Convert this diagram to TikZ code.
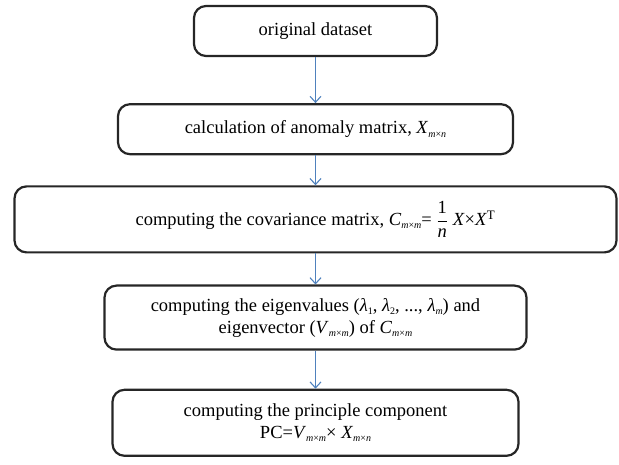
\documentclass[tikz,border=0pt]{standalone}
\usepackage{amsmath}
\usepackage{fontspec}
\setmainfont{Liberation Serif}
\usepackage{tikz}
\usetikzlibrary{arrows.meta,positioning}
\definecolor{pcablue}{RGB}{79,129,189}
\tikzstyle{arrow} = [line width=1.1pt,-{Straight Barb[length=6pt,width=11pt]},color=pcablue]
\tikzstyle{stepbox} = [rectangle, rounded corners=12pt, draw=black!85, line width=2.2pt, text centered, align=center, font=\fontsize{18.5}{22}\selectfont]
\newcommand{\lowsub}[1]{\raisebox{-3.5pt}{\fontsize{10}{10}\selectfont #1}}
\newcommand{\mat}[3]{\textit{#1}\lowsub{\textit{#2}×\textit{#3}}}

\begin{document}
\begin{tikzpicture}[x=1pt, y=1pt]
\useasboundingbox (0,0) rectangle (619,-465);
% Steps
\node[stepbox, minimum width=243pt, minimum height=50pt] (orig) at (315.5,-31) {original dataset};
\node[stepbox, minimum width=395pt, minimum height=50pt, below=46pt of orig] (anom) {calculation of anomaly matrix, \mat{X}{m}{n}};
\node[stepbox, minimum width=602pt, minimum height=66pt, below=30pt of anom] (cov) {computing the covariance matrix, \mat{C}{m}{m}= $\dfrac{\text{1}}{\textit{n}}$ \textit{X}×\textit{X}\textsuperscript{T}};
\node[stepbox, minimum width=422pt, minimum height=64pt, below=31pt of cov] (eig) {computing the eigenvalues (\textit{λ}\lowsub{1}, \textit{λ}\lowsub{2}, ..., \textit{λ}\lowsub{\textit{m}}) and\\ eigenvector (\mat{V}{m}{m}) of \mat{C}{m}{m}};
\node[stepbox, minimum width=406pt, minimum height=66pt, text depth=4pt, below=38pt of eig] (pc) {computing the principle component\\ PC=\mat{V}{m}{m}× \mat{X}{m}{n}};

% Arrows
\draw[arrow] (orig) -- (anom);
\draw[arrow] (anom) -- (cov);
\draw[arrow] (cov) -- (eig);
\draw[arrow] (eig) -- (pc);
\end{tikzpicture}
\end{document}
